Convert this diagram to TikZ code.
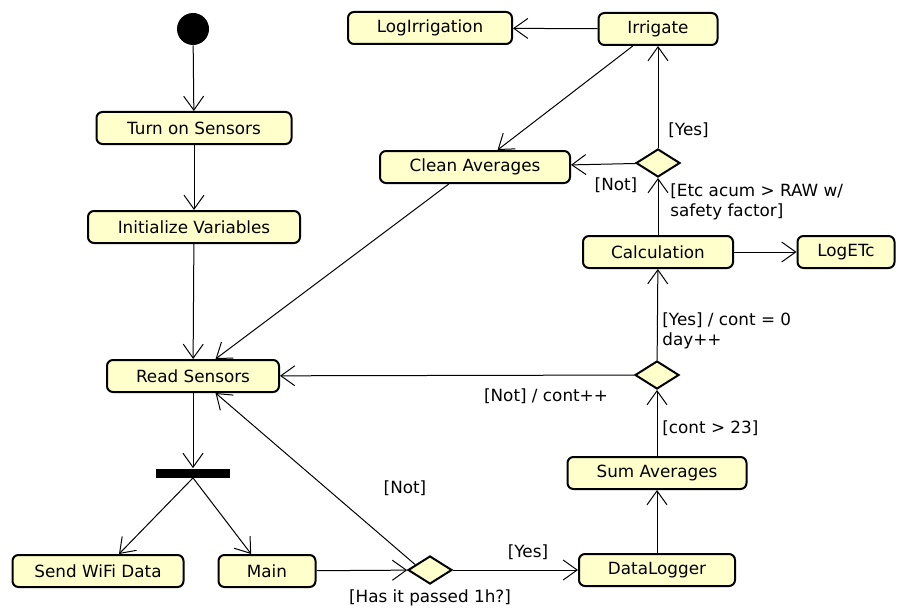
\documentclass[tikz,border=0pt]{standalone}
\usepackage{fontspec}
\setmainfont{DejaVu Sans}
\usetikzlibrary{shapes.geometric,arrows.meta}
\definecolor{actfill}{RGB}{255,255,204}

\tikzset{
  act/.style={draw, line width=1pt, rounded corners=3pt, fill=actfill, minimum height=16pt, inner sep=2pt},
  decision/.style={draw, line width=1pt, diamond, fill=actfill, minimum width=22pt, minimum height=14pt, inner sep=0pt, aspect=1.5},
  flow/.style={-{Straight Barb[length=7pt,width=10pt]}, line width=0.5pt},
  guard/.style={inner sep=1pt, align=left}
}

\begin{document}
\begin{tikzpicture}[x=0.5pt,y=-0.5pt,font=\fontsize{8.4}{10}\selectfont]
		\useasboundingbox (0,0) rectangle (909,610);
		
		% Initial node and fork bar
		\node[circle,fill=black,minimum size=16pt,inner sep=0pt] (start) at (193,29) {};
		\node[fill=black,minimum width=37pt,minimum height=4.5pt,inner sep=0pt] (fork) at (193,473) {};
		
		% Actions
		\node[act,minimum width=97.5pt] (turnon) at (194,128) {Turn on Sensors};
		\node[act,minimum width=106pt] (init) at (194,227) {Initialize Variables};
		\node[act,minimum width=86pt] (read) at (193,376) {Read Sensors};
		\node[act,minimum width=85.5pt] (wifi) at (98,571) {Send WiFi Data};
		\node[act,minimum width=48.5pt] (main) at (267,571) {Main};
		\node[act,minimum width=78pt] (logger) at (657,570) {DataLogger};
		\node[act,minimum width=89.5pt] (sumavg) at (657,473) {Sum Averages};
		\node[act,minimum width=75pt] (calc) at (658,252) {Calculation};
		\node[act,minimum width=48.5pt] (logetc) at (846,252) {LogETc};
		\node[act,minimum width=59.5pt] (irrigate) at (658,29) {Irrigate};
		\node[act,minimum width=82pt] (logirr) at (430,28) {LogIrrigation};
		\node[act,minimum width=95pt] (clean) at (475,167) {Clean Averages};
		
		% Decisions
		\node[decision] (hour) at (430,570) {};
		\node[decision] (count) at (657,375) {};
		\node[decision] (etc) at (658,163) {};
		
		% Flows
		\draw[flow] (start) -- (turnon);
		\draw[flow] (turnon) -- (init);
		\draw[flow] (init) -- (read);
		\draw[flow] (read) -- (fork);
		\draw[flow] (fork.south) -- (wifi.39);
		\draw[flow] (fork.south) -- (main.133);
		\draw[flow] (main) -- (hour);
		\draw[flow] (hour) -- (logger);
		\draw[flow] (hour.160) -- (read.-37);
		\draw[flow] (logger) -- (sumavg);
		\draw[flow] (sumavg) -- (count);
		\draw[flow] (count) -- (read);
		\draw[flow] (count) -- (calc);
		\draw[flow] (calc) -- (logetc);
		\draw[flow] (calc) -- (etc);
		\draw[flow] (etc) -- (clean);
		\draw[flow] (etc) -- (irrigate);
		\draw[flow] (irrigate) -- (logirr);
		\draw[flow] (irrigate.-146) -- (clean.37);
		\draw[flow] (clean.-147) -- (read.37);
		
		% Guards
		\node[guard] (g1) at (430,598) {[Has it passed 1h?]};
		\node[guard] (g2) at (405,488) {[Not]};
		\node[guard] (g3) at (528,552) {[Yes]};
		\node[guard] (g4) at (546,396) {[Not] / cont++};
		\node[guard,anchor=west] (g5) at (660,428) {[cont > 23]};
		\node[guard,anchor=west] (g6) at (660,331) {[Yes] / cont = 0\\day++};
		\node[guard,anchor=west] (g7) at (668,202) {[Etc acum > RAW w/\\safety factor]};
		\node[guard] (g8) at (616,185) {[Not]};
		\node[guard,anchor=west] (g9) at (666,130) {[Yes]};
		
	\end{tikzpicture}
\end{document}
